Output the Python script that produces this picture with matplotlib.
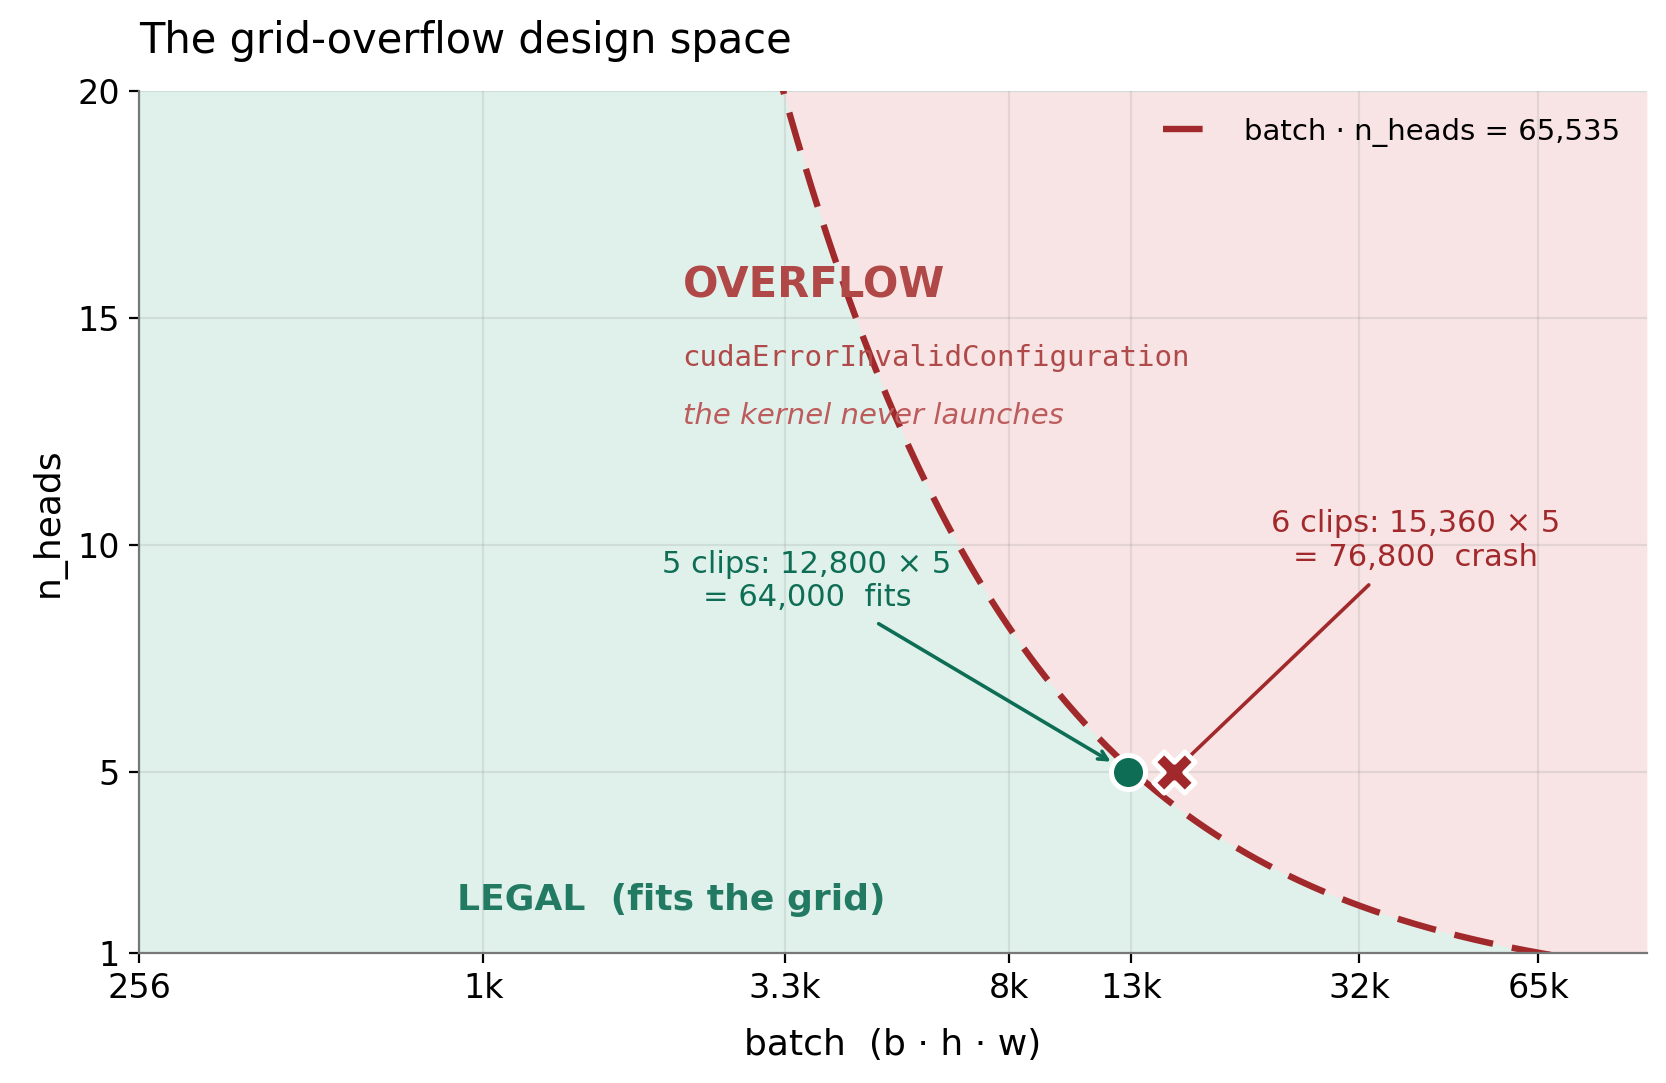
import numpy as np
import matplotlib
matplotlib.use('Agg')
import matplotlib.pyplot as plt

GRID_LIMIT = 65535
x_ticks = [256, 1000, 3300, 8000, 13000, 32000, 65000]
x_tick_labels = ['256', '1k', '3.3k', '8k', '13k', '32k', '65k']
y_ticks = [1, 5, 10, 15, 20]
fits_point = (12800, 5)
crash_point = (15360, 5)

GREEN = '#0e6e55'
RED = '#a2292b'
BG_GREEN = '#e0f1eb'
BG_RED = '#f8e4e4'

fig, ax = plt.subplots(figsize=(8.33, 5.415), dpi=200)
fig.subplots_adjust(left=0.0836, right=0.9885, top=0.9156, bottom=0.12)

ax.set_xscale('log')
ax.set_xlim(256, 1e5)
ax.set_ylim(1, 20)
ax.set_facecolor(BG_GREEN)

# overflow region right of the hyperbola
xs = np.logspace(np.log10(256), 5, 600)
curve = GRID_LIMIT / xs
ax.fill_between(xs, np.clip(curve, 1, 20), 20, where=curve < 20.5, color=BG_RED, lw=0, zorder=0)
ax.plot(xs, curve, color=RED, lw=2.3, dashes=(6.2, 3.0), label='batch · n_heads = 65,535', zorder=3)

ax.set_xticks(x_ticks)
ax.set_xticklabels(x_tick_labels)
ax.xaxis.set_minor_locator(matplotlib.ticker.NullLocator())
ax.set_yticks(y_ticks)
ax.tick_params(labelsize=12)
ax.grid(True, color='#888888', alpha=0.18, lw=0.8)
ax.set_axisbelow(False)
for g in ax.get_xgridlines() + ax.get_ygridlines():
    g.set_zorder(1)

for s in ['top', 'right']:
    ax.spines[s].set_visible(False)
for s in ['left', 'bottom']:
    ax.spines[s].set_color('#777777')
    ax.spines[s].set_zorder(5)

ax.scatter(*fits_point, s=150, color=GREEN, edgecolor='white', linewidth=1.8, zorder=6)
ax.scatter(*crash_point, s=220, marker='X', color=RED, edgecolor='white', linewidth=1.8, zorder=6)

ax.annotate('5 clips: 12,800 × 5\n= 64,000  fits', xy=fits_point, xytext=(3600, 9.2),
            ha='center', va='center', fontsize=11, color=GREEN,
            arrowprops=dict(arrowstyle='->', color=GREEN, lw=1.3, shrinkA=4, shrinkB=7,
                            mutation_scale=8))
ax.annotate('6 clips: 15,360 × 5\n= 76,800  crash', xy=crash_point, xytext=(40000, 10.1),
            ha='center', va='center', fontsize=11, color=RED,
            arrowprops=dict(arrowstyle='-', color=RED, lw=1.3, shrinkA=4, shrinkB=7))

ax.text(2200, 15.72, 'OVERFLOW', fontsize=15, fontweight='bold', color='#b04848', va='center', zorder=4)
ax.text(2200, 14.12, 'cudaErrorInvalidConfiguration', fontsize=10.5, family='DejaVu Sans Mono',
        color='#b04a4a', va='center', zorder=4)
ax.text(2200, 12.85, 'the kernel never launches', fontsize=10.5, style='italic',
        color='#bd5c5c', va='center', zorder=4)
ax.text(900, 2.17, 'LEGAL  (fits the grid)', fontsize=13, fontweight='bold', color='#227a63',
        va='center', zorder=4)

ax.legend(loc='upper right', frameon=False, fontsize=10.5)
ax.set_xlabel('batch  (b · h · w)', fontsize=13, labelpad=8)
ax.set_ylabel('n_heads', fontsize=13)
ax.set_title('The grid-overflow design space', loc='left', fontsize=15, pad=14)

plt.savefig('out.png', dpi=200)
